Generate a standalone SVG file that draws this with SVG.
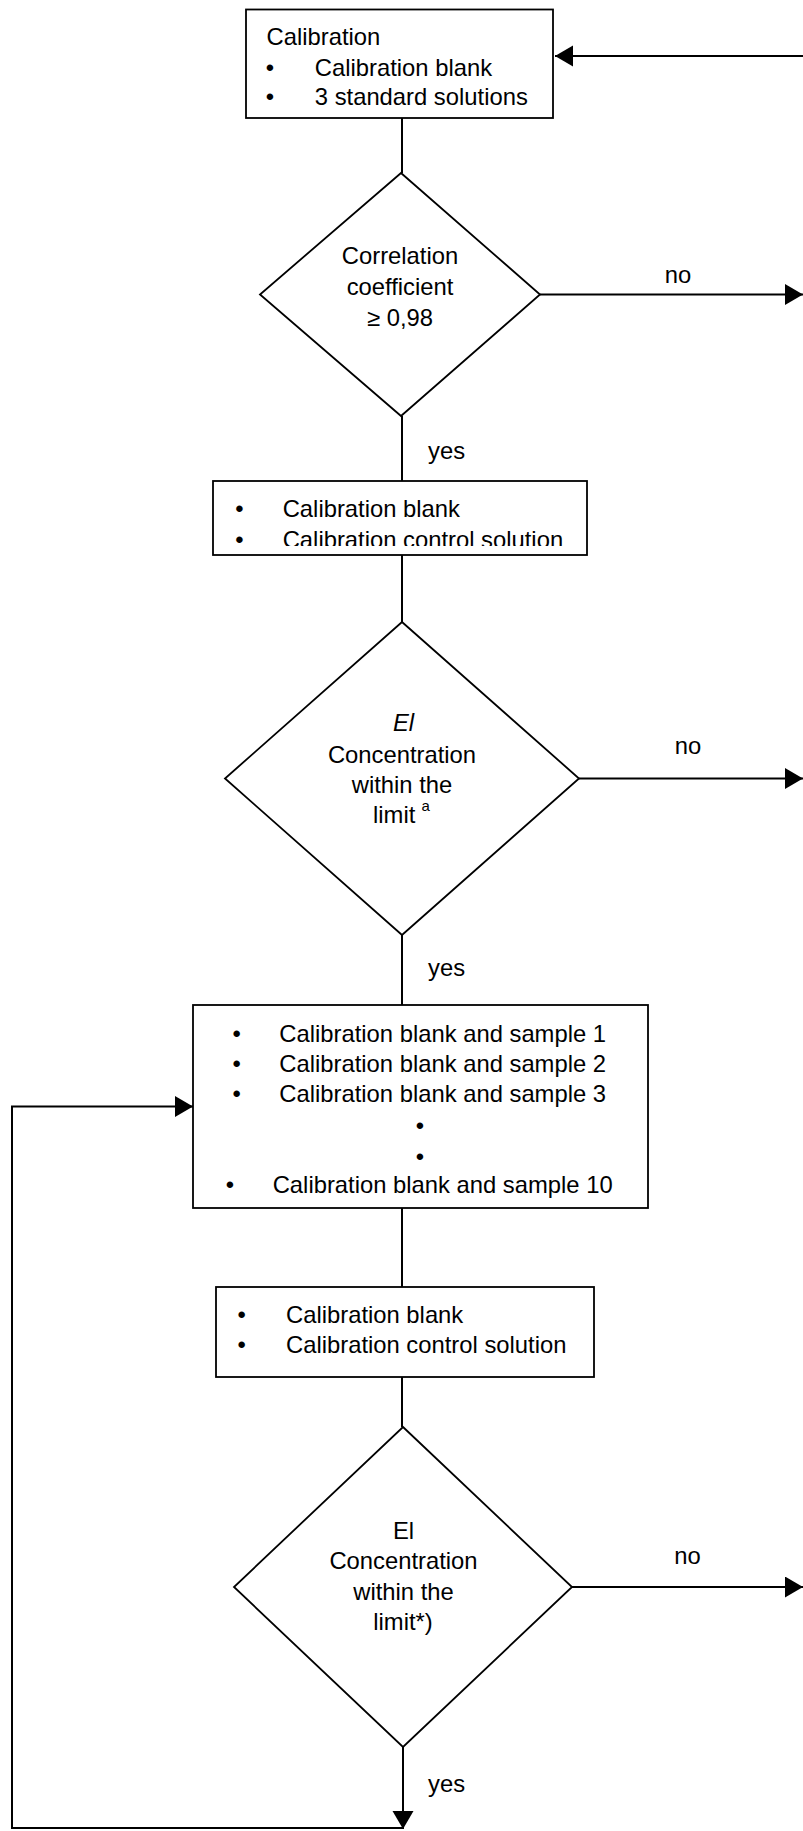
<svg xmlns="http://www.w3.org/2000/svg" width="803" height="1831" viewBox="0 0 803 1831">
<style>
text{font-family:"Liberation Sans",Arial,sans-serif;font-size:23.8px;fill:#000}
.c{text-anchor:middle}
.sup{font-size:15px}
.shape{fill:#fff;stroke:#000;stroke-width:1.8}
.conn{fill:none;stroke:#000;stroke-width:2}
</style>
<defs>
<marker id="ah" markerUnits="userSpaceOnUse" markerWidth="20" markerHeight="22" refX="18" refY="10.5" orient="auto">
<path d="M0,0 L18,10.5 L0,21 z" fill="#000"/>
</marker>
<clipPath id="clip2"><rect x="213" y="481" width="374" height="65"/></clipPath>
</defs>
<rect width="803" height="1831" fill="#fff"/>
<g id="connectors">
<line class="conn" x1="803" y1="56" x2="555" y2="56" marker-end="url(#ah)"/>
<line class="conn" x1="402" y1="118" x2="402" y2="173"/>
<line class="conn" x1="540" y1="294.5" x2="803" y2="294.5" marker-end="url(#ah)"/>
<line class="conn" x1="402" y1="416" x2="402" y2="481"/>
<line class="conn" x1="402" y1="555" x2="402" y2="622"/>
<line class="conn" x1="579" y1="778.5" x2="803" y2="778.5" marker-end="url(#ah)"/>
<line class="conn" x1="402" y1="935" x2="402" y2="1005"/>
<polyline class="conn" points="403,1828 12,1828 12,1106.5 193,1106.5" marker-end="url(#ah)"/>
<line class="conn" x1="402" y1="1208" x2="402" y2="1287"/>
<line class="conn" x1="402" y1="1377" x2="402" y2="1427"/>
<line class="conn" x1="572" y1="1587" x2="803" y2="1587" marker-end="url(#ah)"/>
<line class="conn" x1="403" y1="1747" x2="403" y2="1829" marker-end="url(#ah)"/>
<text x="678" y="283" class="c">no</text>
<text x="428" y="459">yes</text>
<text x="688" y="754" class="c">no</text>
<text x="428" y="976">yes</text>
<text x="687.5" y="1564" class="c">no</text>
<text x="428" y="1792">yes</text>
</g>
<g id="box1">
<rect class="shape" x="246" y="9.5" width="307" height="108.5"/>
<text x="266.5" y="45">Calibration</text>
<text x="270" y="76" class="c">•</text>
<text x="314.8" y="76">Calibration blank</text>
<text x="270" y="105" class="c">•</text>
<text x="314.8" y="105">3 standard solutions</text>
</g>
<g id="decision1">
<polygon class="shape" points="401,173 540,294.5 401,416 260,294.5"/>
<text x="400" y="264" class="c">Correlation</text>
<text x="400" y="295" class="c">coefficient</text>
<text x="400" y="326" class="c">≥ 0,98</text>
</g>
<g id="box2">
<rect class="shape" x="213" y="481" width="374" height="74"/>
<g clip-path="url(#clip2)">
<text x="239.3" y="517" class="c">•</text>
<text x="282.7" y="517">Calibration blank</text>
<text x="239.3" y="548" class="c">•</text>
<text x="282.7" y="548">Calibration control solution</text>
</g>
</g>
<g id="decision2">
<polygon class="shape" points="402,622 579,778.5 402,935 225,778.5"/>
<text x="403.5" y="731" class="c" font-style="italic">El</text>
<text x="402" y="762.5" class="c">Concentration</text>
<text x="402" y="792.5" class="c">within the</text>
<text x="373" y="822.5">limit<tspan class="sup" x="421.5" dy="-12">a</tspan></text>
</g>
<g id="box3">
<rect class="shape" x="193" y="1005" width="455" height="203"/>
<text x="236.7" y="1041.7" class="c">•</text>
<text x="279.3" y="1041.7">Calibration blank and sample 1</text>
<text x="236.7" y="1071.7" class="c">•</text>
<text x="279.3" y="1071.7">Calibration blank and sample 2</text>
<text x="236.7" y="1101.7" class="c">•</text>
<text x="279.3" y="1101.7">Calibration blank and sample 3</text>
<text x="420" y="1134" class="c">•</text>
<text x="420" y="1164.5" class="c">•</text>
<text x="230" y="1193.3" class="c">•</text>
<text x="272.7" y="1193.3">Calibration blank and sample 10</text>
</g>
<g id="box4">
<rect class="shape" x="216" y="1287" width="378" height="90"/>
<text x="241.7" y="1323.3" class="c">•</text>
<text x="286" y="1323.3">Calibration blank</text>
<text x="241.7" y="1352.7" class="c">•</text>
<text x="286" y="1352.7">Calibration control solution</text>
</g>
<g id="decision3">
<polygon class="shape" points="403,1427 572,1587 403,1747 234,1587"/>
<text x="403.5" y="1539" class="c">El</text>
<text x="403.5" y="1569" class="c">Concentration</text>
<text x="403.5" y="1599.5" class="c">within the</text>
<text x="403" y="1629.5" class="c">limit*)</text>
</g>
</svg>
